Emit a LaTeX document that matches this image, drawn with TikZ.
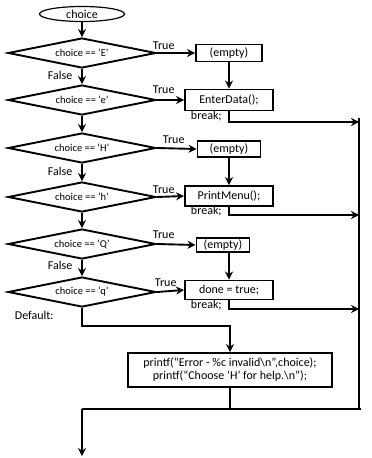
\documentclass[tikz,border=0pt]{standalone}
\usepackage{fontspec}
\setmainfont{Carlito}
\usetikzlibrary{shapes.geometric,arrows.meta}
\begin{document}
\begin{tikzpicture}[x=1pt,y=-1pt,
  line width=1.9pt,
  arr/.style={-{Stealth[length=8pt,width=8pt]}},
  dec/.style={draw,diamond,aspect=5,minimum width=148pt,minimum height=30pt,inner sep=0pt,font=\fontsize{10.5}{12}\selectfont},
  act/.style={draw,rectangle,inner sep=0pt,font=\fontsize{12}{13}\selectfont},
  lbl/.style={inner sep=0pt,font=\fontsize{12}{13}\selectfont},
]
\useasboundingbox (0,0) rectangle (372,458);
\node[draw,ellipse,line width=1.2pt,minimum width=85pt,minimum height=15pt,inner sep=0pt,font=\fontsize{12}{13}\selectfont] (start) at (82,14) {choice};
\node[dec] (d1) at (82,53) {choice == ‘E’};
\node[dec] (d2) at (82,100) {choice == ‘e’};
\node[dec] (d3) at (82,148) {choice == ‘H’};
\node[dec] (d4) at (82,197) {choice == ‘h’};
\node[dec] (d5) at (82,244) {choice == ‘Q’};
\node[dec] (d6) at (82,292) {choice == ‘q’};
\node[act,minimum width=66pt,minimum height=17pt] (e1) at (229,53) {(empty)};
\node[act,minimum width=88pt,minimum height=21pt] (b1) at (229,100) {EnterData();};
\node[act,minimum width=63pt,minimum height=16pt] (e2) at (229,149) {(empty)};
\node[act,minimum width=88pt,minimum height=20pt] (b2) at (229,196) {PrintMenu();};
\node[act,minimum width=53pt,minimum height=14pt] (e3) at (223,245) {(empty)};
\node[act,minimum width=88pt,minimum height=19pt] (b3) at (229,290) {done = true;};
\node[act,minimum width=204pt,minimum height=34pt,align=center] (p) at (230,370) {printf(“Error - \%c invalid\textbackslash n”,choice);\\printf(“Choose ‘H’ for help.\textbackslash n”);};
% labels
\node[lbl,anchor=west] (t1) at (152,46) {True};
\node[lbl,anchor=west] (t2) at (152,90) {True};
\node[lbl,anchor=west] (t3) at (162,140) {True};
\node[lbl,anchor=west] (t4) at (152,190) {True};
\node[lbl,anchor=west] (t5) at (152,235) {True};
\node[lbl,anchor=west] (t6) at (154,283) {True};
\node[lbl,anchor=west] (f1) at (47,75) {False};
\node[lbl,anchor=west] (f2) at (47,171) {False};
\node[lbl,anchor=west] (f3) at (47,265) {False};
\node[lbl,anchor=west] (k1) at (190,116) {break;};
\node[lbl,anchor=west] (k2) at (190,211) {break;};
\node[lbl,anchor=west] (k3) at (190,305) {break;};
\node[lbl,anchor=west] (df) at (14,315) {Default:};
% coordinates
\coordinate (rtop) at (359,118);
\coordinate (r1) at (359,122);
\coordinate (r2) at (359,215);
\coordinate (r3) at (359,309);
\coordinate (dc) at (230,326);
\coordinate (j1) at (82,409);
\coordinate (j2) at (361,409);
\coordinate (out) at (82,456);
% connectors
\draw[arr] (start) -- (d1);
\draw[arr] (d1) -- (d2);
\draw[arr] (d2) -- (d3);
\draw[arr] (d3) -- (d4);
\draw[arr] (d4) -- (d5);
\draw[arr] (d5) -- (d6);
\draw[arr] (d1.east) -- (e1.west);
\draw[arr] (d2.east) -- (b1.west);
\draw[arr] (d3.east) -- (e2.west);
\draw[arr] (d4.east) -- (b2.west);
\draw[arr] (d5.east) -- (e3.west);
\draw[arr] (d6.east) -- (b3.west);
\draw[arr] (e1) -- (b1);
\draw[arr] (e2) -- (b2);
\draw[arr] (e3.south -| b3.north) -- (b3.north);
\draw[arr] (b1.south) |- (r1);
\draw[arr] (b2.south) |- (r2);
\draw[arr] (b3.south) |- (r3);
\draw (rtop) -- (j2 -| rtop);
\draw[arr] (d6.south) |- (dc) -- (p.north);
\draw (p.south) -- (p.south |- j1);
\draw (j1) -- (j2);
\draw[arr] (j1) -- (out);
\end{tikzpicture}
\end{document}
